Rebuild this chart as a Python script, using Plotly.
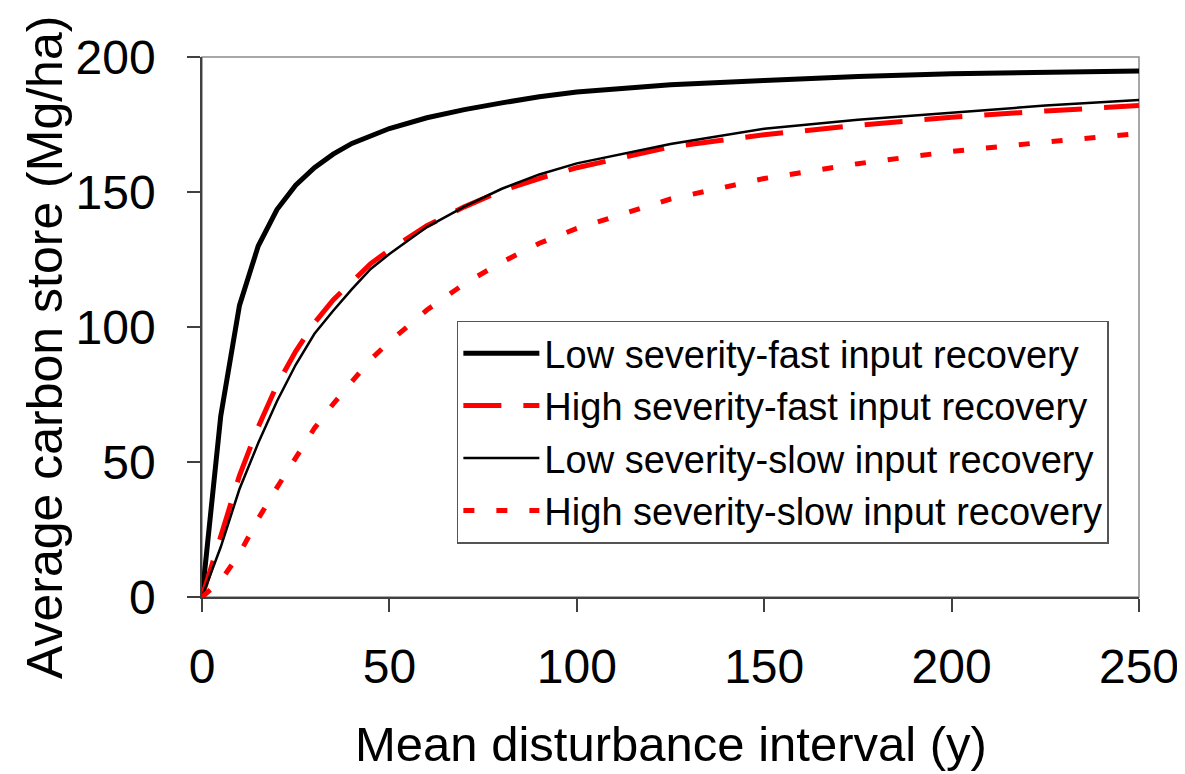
import plotly.graph_objects as go

# mean disturbance interval (years)
interval = [0, 5, 10, 15, 20, 25, 30, 35, 40, 45, 50, 60, 70, 80, 90, 100,
            125, 150, 175, 200, 225, 250]

# average carbon store (Mg/ha)
low_fast = [0, 67, 108, 130, 143.5, 152.5, 159, 164, 168, 171, 173.5, 177.5,
            180.5, 183, 185.3, 187, 189.7, 191.3, 192.8, 193.8, 194.4, 194.8]
high_fast = [0, 22.5, 45, 63, 78.5, 91, 101.5, 110, 117, 123.5, 128.5, 137.5,
             144.5, 150.5, 155, 159, 166.7, 171.2, 174.7, 177.7, 180, 182]
low_slow = [0, 18.5, 40, 57, 72.5, 86, 97.5, 106, 114, 121.5, 127, 137,
            144.6, 151.2, 156.5, 160.6, 167.8, 173.4, 176.8, 179.5, 182, 184.1]
high_slow = [0, 6, 16, 29, 40.5, 51.5, 62.5, 71.5, 80, 88, 94.5, 106.3,
             116, 124, 131, 136.5, 147.4, 155, 160.5, 165, 168.5, 171.7]

x_ticks = [0, 50, 100, 150, 200, 250]
y_ticks = [0, 50, 100, 150, 200]

FONT = "Liberation Sans, Arial, sans-serif"
AXIS = "#404040"

fig = go.Figure()
fig.add_trace(go.Scatter(
    x=interval, y=low_fast, mode="lines",
    name="Low severity-fast input recovery",
    line=dict(color="black", width=5),
))
fig.add_trace(go.Scatter(
    x=interval, y=high_fast, mode="lines",
    name="High severity-fast input recovery",
    line=dict(color="#ff0000", width=5, dash="38px,22px"),
))
fig.add_trace(go.Scatter(
    x=interval, y=low_slow, mode="lines",
    name="Low severity-slow input recovery",
    line=dict(color="black", width=2.5),
))
fig.add_trace(go.Scatter(
    x=interval, y=high_slow, mode="lines",
    name="High severity-slow input recovery",
    line=dict(color="#ff0000", width=5, dash="11px,22px"),
))

# grey frame on top/right, darker axes on left/bottom
fig.add_shape(type="rect", xref="paper", yref="paper", x0=0, y0=0, x1=1, y1=1,
              line=dict(color="#8c8c8c", width=1.5), layer="below")

# axis titles as annotations so they sit where the original has them
fig.add_annotation(text="Mean disturbance interval (y)", xref="paper", yref="paper",
                   x=0.5, y=-0.272, xanchor="center", yanchor="middle",
                   showarrow=False, font=dict(family=FONT, size=49, color="black"))
fig.add_annotation(text="Average carbon store (Mg/ha)", xref="paper", yref="paper",
                   x=-0.1676, y=0.463, xanchor="center", yanchor="middle",
                   textangle=-90, showarrow=False,
                   font=dict(family=FONT, size=50, color="black"))

# page body has an 8px margin, so the figure is 8px smaller than the window
fig.update_layout(
    width=1177,
    height=766,
    margin=dict(l=194, r=46, t=49, b=177),
    plot_bgcolor="white",
    paper_bgcolor="white",
    font=dict(family=FONT, size=48, color="black"),
    showlegend=True,
    legend=dict(
        x=0.272, y=0.512, xanchor="left", yanchor="top",
        font=dict(family=FONT, size=38, color="black"),
        bordercolor="#555555", borderwidth=1.5, bgcolor="white",
        tracegroupgap=0, itemwidth=76,
    ),
    xaxis=dict(
        range=[0, 250], tickvals=x_ticks, showgrid=False, zeroline=False,
        showline=True, linecolor=AXIS, linewidth=1.5, automargin=False,
        ticks="outside", ticklen=13, tickcolor=AXIS, tickwidth=1.5,
        ticklabelstandoff=14,
    ),
    yaxis=dict(
        range=[0, 200], tickvals=y_ticks, showgrid=False, zeroline=False,
        showline=True, linecolor=AXIS, linewidth=1.5, automargin=False,
        ticks="outside", ticklen=13, tickcolor=AXIS, tickwidth=1.5,
        ticklabelstandoff=22,
    ),
)

fig.write_html("out.html")
